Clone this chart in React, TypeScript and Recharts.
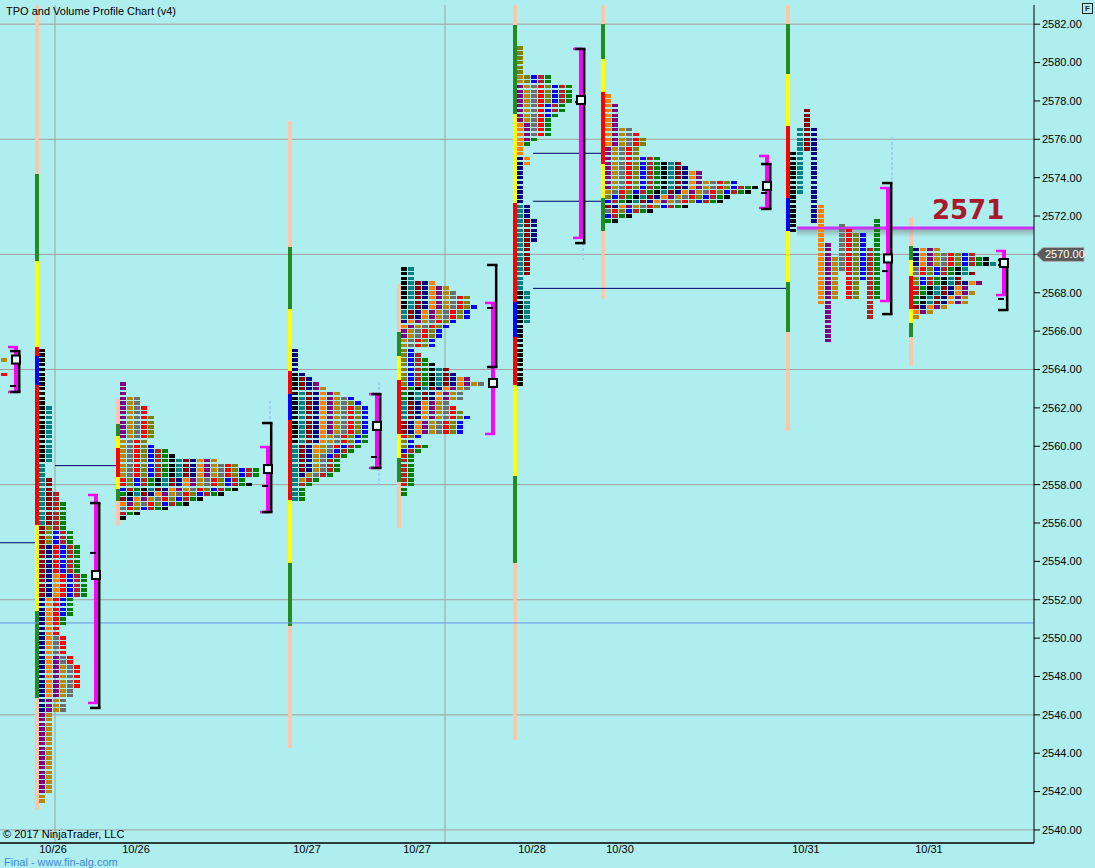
import React from 'react';
import {
  ComposedChart,
  XAxis,
  YAxis,
  Scatter,
  CartesianGrid,
  ReferenceLine,
  ReferenceArea,
  ReferenceDot,
} from 'recharts';

const BG = '#AFEEEE';
const FONT = '"Liberation Sans", Arial, sans-serif';
const TICK = 0.25;
const PX = 1 / 7; // one screen pixel, in TPO-column units
const X_MAX = 1034 / 7;
const Y_MIN = 2539.32;
const Y_MAX = 2583.0;

// letter colours, in period order
const PALETTE = [
  '#000000', '#008080', '#8B0000', '#000080', '#FF8000', '#800080', '#B8860B',
  '#6E6E6E', '#FF0000', '#808000', '#0000FF', '#B22222', '#008000',
];
const BAR_COLORS: Record<string, string> = {
  p: '#FFC6AA', g: '#228B22', y: '#FFFF00', r: '#FF0000', b: '#0000FF',
};

const priceTicks = [
  2540, 2542, 2544, 2546, 2548, 2550, 2552, 2554, 2556, 2558, 2560,
  2562, 2564, 2566, 2568, 2570, 2572, 2574, 2576, 2578, 2580, 2582,
];
const gridLevels = [2540, 2546, 2552, 2558, 2564, 2570, 2576, 2582];
const gridSlots = [7.86, 63.57];
const dateSlots = [7.57, 19.43, 43.86, 59.57, 76.0, 88.57, 115.14, 132.71];
const dateLabels = ['10/26', '10/26', '10/27', '10/27', '10/28', '10/30', '10/31', '10/31'];

// periods as [colour index, high, low]
const prior1025: [number, number, number][] = [
  [6, 2564.5, 2564.5],
  [8, 2563.75, 2563.75],
];
const rth1026: [number, number, number][] = [
  [0, 2565.0, 2559.25], [1, 2562.0, 2556.0], [2, 2558.25, 2552.25],
  [3, 2554.75, 2546.25], [4, 2553.25, 2547.0], [5, 2549.0, 2542.0],
  [6, 2548.5, 2541.5], [7, 2550.0, 2546.25], [8, 2554.75, 2547.5],
  [9, 2555.75, 2555.0], [10, 2555.5, 2551.25], [11, 2557.5, 2552.25],
  [12, 2557.0, 2550.75],
];
const rth1027: [number, number, number][] = [
  [0, 2563.75, 2560.25], [1, 2562.75, 2557.25], [2, 2563.5, 2558.75],
  [3, 2565.0, 2558.5], [4, 2562.75, 2559.75], [5, 2563.25, 2560.75],
  [6, 2563.0, 2558.25], [7, 2562.5, 2558.5], [8, 2562.0, 2560.0],
  [9, 2562.25, 2560.25], [10, 2562.5, 2559.5], [11, 2560.0, 2558.0],
  [12, 2560.5, 2557.25],
];
const rth1028: [number, number, number][] = [
  [0, 2568.0, 2563.25], [1, 2572.5, 2566.5], [2, 2571.75, 2569.0],
  [3, 2575.0, 2570.75], [4, 2576.75, 2574.75], [5, 2578.75, 2576.0],
  [6, 2579.25, 2577.0], [7, 2578.75, 2576.25], [8, 2578.75, 2576.25],
  [9, 2580.75, 2578.0], [10, 2579.25, 2577.25], [11, 2579.25, 2577.5],
  [12, 2579.25, 2575.75],
];
const rth1031: [number, number, number][] = [
  [0, 2575.25, 2571.25], [1, 2576.5, 2573.25], [2, 2577.5, 2575.5],
  [3, 2576.5, 2571.75], [4, 2572.5, 2567.5], [5, 2570.5, 2565.5],
  [6, 2569.75, 2567.75], [7, 2571.5, 2569.25], [8, 2571.25, 2567.75],
  [9, 2571.0, 2567.75], [10, 2571.0, 2568.75], [11, 2570.25, 2566.75],
  [12, 2571.75, 2567.75],
];

// overnight profiles: number of TPOs per row, from the top row down
const eth1026 = [1, 1, 1, 3, 3, 4, 4, 5, 5, 5, 5, 5, 4, 5, 7, 8, 14, 17, 20, 20, 18, 19, 17, 15, 12, 10, 7, 3, 1];
const eth1027 = [2, 2, 2, 5, 7, 8, 10, 10, 11, 10, 10, 8, 7, 6, 6, 5, 5, 2, 3, 4, 5, 7, 8, 10, 12, 10, 9, 9, 7, 8, 9, 10, 9, 9, 9, 3, 2, 4, 3, 2, 2, 2, 2, 2, 2, 2, 1, 1];
const eth1030 = [1, 1, 2, 2, 2, 2, 2, 4, 5, 6, 6, 5, 5, 8, 11, 12, 14, 14, 19, 22, 21, 18, 17, 12, 7, 4, 2];
const eth1031 = [4, 9, 11, 12, 8, 9, 7, 10, 8, 9, 8, 8, 5, 3, 1];

// session range bars: [high, low, colour key]
const bar1026a: [number, number, string][] = [
  [2583.0, 2574.17, 'p'], [2574.17, 2569.64, 'g'], [2569.64, 2565.15, 'y'], [2565.15, 2564.68, 'r'],
  [2564.68, 2563.17, 'b'], [2563.17, 2555.91, 'r'], [2555.91, 2551.43, 'y'], [2551.43, 2546.89, 'g'],
  [2546.89, 2541.04, 'p'],
];
const bar1026b: [number, number, string][] = [
  [2562.44, 2561.18, 'p'], [2561.18, 2560.56, 'g'], [2560.56, 2559.93, 'y'], [2559.93, 2558.42, 'r'],
  [2558.42, 2557.79, 'y'], [2557.79, 2557.17, 'g'], [2557.17, 2555.91, 'p'],
];
const bar1027a: [number, number, string][] = [
  [2576.94, 2570.37, 'p'], [2570.37, 2567.13, 'g'], [2567.13, 2563.9, 'y'], [2563.9, 2562.7, 'r'],
  [2562.7, 2561.39, 'b'], [2561.39, 2557.22, 'r'], [2557.22, 2553.93, 'y'], [2553.93, 2550.64, 'g'],
  [2550.64, 2544.28, 'p'],
];
const bar1027b: [number, number, string][] = [
  [2568.44, 2565.93, 'p'], [2565.93, 2564.68, 'g'], [2564.68, 2563.43, 'y'], [2563.43, 2560.66, 'r'],
  [2560.66, 2559.41, 'y'], [2559.41, 2558.16, 'g'], [2558.16, 2555.76, 'p'],
];
const bar1028: [number, number, string][] = [
  [2583.0, 2581.95, 'p'], [2581.95, 2577.3, 'g'], [2577.3, 2572.66, 'y'], [2572.66, 2567.5, 'r'],
  [2567.5, 2565.67, 'b'], [2565.67, 2563.17, 'r'], [2563.17, 2558.47, 'y'], [2558.47, 2553.93, 'g'],
  [2553.93, 2544.7, 'p'],
];
const bar1030: [number, number, string][] = [
  [2583.0, 2582.0, 'p'], [2582.0, 2580.17, 'g'], [2580.17, 2578.45, 'y'], [2578.45, 2574.7, 'r'],
  [2574.7, 2572.92, 'y'], [2572.92, 2571.2, 'g'], [2571.2, 2567.65, 'p'],
];
const bar1031a: [number, number, string][] = [
  [2583.0, 2582.0, 'p'], [2582.0, 2579.39, 'g'], [2579.39, 2576.68, 'y'], [2576.68, 2572.92, 'r'],
  [2572.92, 2571.2, 'b'], [2571.2, 2568.54, 'y'], [2568.54, 2565.93, 'g'], [2565.93, 2560.77, 'p'],
];
const bar1031b: [number, number, string][] = [
  [2571.93, 2570.42, 'p'], [2570.42, 2569.69, 'g'], [2569.69, 2568.9, 'y'], [2568.9, 2567.18, 'r'],
  [2567.18, 2566.45, 'y'], [2566.45, 2565.67, 'g'], [2565.67, 2564.16, 'p'],
];

// value-area brackets: [magenta high, magenta low, black high, black low, poc, ...extra ticks]
const vaLevels: number[][] = [
  [2565.17, 2562.83, 2564.96, 2562.83, 2564.52, 2563.14],
  [2557.46, 2546.62, 2557.04, 2546.36, 2553.29, 2554.44],
  [2559.96, 2556.57, 2561.21, 2556.57, 2558.81, 2557.93],
  [2562.72, 2558.87, 2562.72, 2558.87, 2561.06, 2559.44],
  [2567.47, 2560.64, 2569.45, 2564.13, 2563.3, 2567.21],
  [2580.71, 2570.86, 2580.71, 2570.59, 2578.05, 2577.94],
  [2575.13, 2572.42, 2574.71, 2572.37, 2573.57, 2573.2],
  [2573.46, 2567.57, 2573.72, 2566.89, 2569.79, 2569.13],
  [2570.18, 2567.88, 2569.71, 2567.1, 2569.55, 2569.45, 2567.68],
];
const vaSlots = [2.0, 13.43, 38.0, 53.57, 70.14, 82.71, 109.29, 126.57, 143.14];

// faint range extensions: [slot, high, low]
const extensions: [number, number, number][] = [
  [38.57, 2562.36, 2561.21],
  [54.14, 2563.35, 2562.72],
  [54.14, 2558.87, 2557.88],
  [83.29, 2570.59, 2569.71],
  [127.43, 2576.12, 2573.77],
];

// session start slots (time position of each profile)
const profileSlots = [-0.43, 5.0, 16.57, 41.14, 56.71, 73.29, 85.86, 112.29, 129.86];

// naked POC lines: [price, from slot, to slot]
const pocLines: [number, number, number][] = [
  [2554.97, 0, 5.0],
  [2558.99, 7.86, 16.57],
  [2575.27, 76.14, 85.86],
  [2572.77, 76.14, 85.86],
  [2568.23, 76.14, 112.29],
];
const levelLine = { price: 2571.37, from: 113.86, label: '2571', labelSlot: 138.3, labelPrice: 2571.83 };
const refLine = 2550.79;
const lastPrice = 2570.0;

function periodsFromWidths(top: number, widths: number[], offset: number) {
  const out: [number, number, number][] = [];
  const open: number[] = [];
  widths.forEach((w, k) => {
    const p = top - k * TICK;
    while (open.length > w) {
      const i = open.shift() as number;
      out[i][2] = p + TICK;
    }
    while (open.length < w) {
      out.push([(offset + out.length) % 13, p, p]);
      open.push(out.length - 1);
    }
  });
  const last = top - (widths.length - 1) * TICK;
  open.forEach((i) => (out[i][2] = last));
  return out;
}

const sessions = [
  { periods: prior1025, bars: [] as [number, number, string][], split: false },
  { periods: rth1026, bars: bar1026a, split: false },
  { periods: periodsFromWidths(2563.25, eth1026, 5), bars: bar1026b, split: false },
  { periods: rth1027, bars: bar1027a, split: false },
  { periods: periodsFromWidths(2569.25, eth1027, 0), bars: bar1027b, split: false },
  { periods: rth1028, bars: bar1028, split: false },
  { periods: periodsFromWidths(2578.25, eth1030, 4), bars: bar1030, split: false },
  { periods: rth1031, bars: bar1031a, split: true },
  { periods: periodsFromWidths(2570.25, eth1031, 3), bars: bar1031b, split: false },
];

type Block = { x: number; y: number; c: string };

function buildBlocks(): Block[] {
  const res: Block[] = [];
  sessions.forEach((s, si) => {
    const start = profileSlots[si] + 4 * PX;
    const hi = Math.max(...s.periods.map((p) => p[1]));
    const lo = Math.min(...s.periods.map((p) => p[2]));
    for (let t = Math.round(hi / TICK); t >= Math.round(lo / TICK); t--) {
      const price = t * TICK;
      let j = 0;
      s.periods.forEach((per, i) => {
        if (price <= per[1] + 1e-6 && price >= per[2] - 1e-6) {
          res.push({ x: start + (s.split ? i : j), y: price, c: PALETTE[per[0]] });
          j++;
        }
      });
    }
  });
  return res;
}

const blocks = buildBlocks();

const renderBlock = (props: any) => {
  const { cx, cy, payload } = props;
  if (cx == null || cy == null) return <g />;
  return <rect x={cx} y={cy - 1.75} width={6} height={3.5} fill={payload.c} shapeRendering="crispEdges" />;
};

const renderPoc = (props: any) => (
  <rect x={props.cx - 4} y={props.cy - 4} width={8} height={8} fill="#E8FFFF" stroke="#000" strokeWidth={2} />
);

const renderLastPrice = (props: any) => {
  const { cx, cy } = props;
  const x0 = cx + 2;
  const pts = `${x0},${cy} ${x0 + 7},${cy - 7} ${x0 + 48},${cy - 7} ${x0 + 48},${cy + 7} ${x0 + 7},${cy + 7}`;
  return (
    <g>
      <polygon points={pts} fill="#5A5A5A" stroke="#B0B0B0" strokeWidth={1} />
      <text x={x0 + 9} y={cy + 4} fontSize={11} fill="#FFFFFF" fontFamily={FONT}>
        {lastPrice.toFixed(2)}
      </text>
    </g>
  );
};

const renderLevelLabel = (props: any) => (
  <text
    x={props.cx}
    y={props.cy}
    textAnchor="middle"
    fontSize={26}
    fontWeight="bold"
    fill="#A8192B"
    fontFamily='"DejaVu Sans", Verdana, sans-serif'
  >
    {levelLine.label}
  </text>
);

const renderLevelLine = (props: any) => {
  const { x1, y1, x2, y2 } = props;
  return (
    <g>
      <rect x={Math.min(x1, x2)} y={y1 + 1} width={Math.abs(x2 - x1)} height={8} fill="url(#lvlShadow)" />
      <line x1={x1} y1={y1} x2={x2} y2={y2} stroke="#CC33FF" strokeWidth={3} />
    </g>
  );
};

function seg(key: string, x1: number, y1: number, x2: number, y2: number, stroke: string, w: number, dash?: string) {
  return (
    <ReferenceLine
      key={key}
      segment={[{ x: x1, y: y1 }, { x: x2, y: y2 }]}
      stroke={stroke}
      strokeWidth={w}
      strokeDasharray={dash}
      ifOverflow="visible"
    />
  );
}

function bracketElements() {
  const els: React.ReactElement[] = [];
  vaLevels.forEach((v, i) => {
    const c = vaSlots[i];
    const [mHi, mLo, bHi, bLo] = v;
    const extra = v.slice(5);
    els.push(seg(`mv${i}`, c + 2 * PX, mHi, c + 2 * PX, mLo, '#FF00FF', 4));
    els.push(seg(`mt${i}`, c - 6 * PX, mHi, c + 4 * PX, mHi, '#FF00FF', 2.5));
    els.push(seg(`mb${i}`, c - 6 * PX, mLo, c + 4 * PX, mLo, '#FF00FF', 2.5));
    els.push(seg(`bv${i}`, c + 5.2 * PX, bHi, c + 5.2 * PX, bLo, '#000000', 2.5));
    els.push(seg(`bt${i}`, c - 4 * PX, bHi, c + 6.5 * PX, bHi, '#000000', 2.5));
    els.push(seg(`bb${i}`, c - 4 * PX, bLo, c + 6.5 * PX, bLo, '#000000', 2.5));
    extra.forEach((t, k) => els.push(seg(`bx${i}-${k}`, c - 4 * PX, t, c + 2 * PX, t, '#000000', 2)));
  });
  return els;
}

function barElements() {
  const els: React.ReactElement[] = [];
  sessions.forEach((s, si) => {
    const c = profileSlots[si];
    s.bars.forEach(([hi, lo, k], bi) => {
      els.push(
        <ReferenceArea
          key={`bar${si}-${bi}`}
          x1={c}
          x2={c + 4 * PX}
          y1={lo}
          y2={hi}
          fill={BAR_COLORS[k]}
          fillOpacity={1}
          stroke="none"
          ifOverflow="visible"
          shapeRendering="crispEdges"
        />
      );
    });
  });
  return els;
}

export default function App() {
  return (
    <div
      style={{
        position: 'fixed',
        left: 0,
        top: 0,
        width: 1095,
        height: 868,
        background: BG,
        fontFamily: FONT,
        overflow: 'hidden',
      }}
    >
      <ComposedChart width={1095} height={868} margin={{ top: 5, right: 0, bottom: 0, left: 0 }}>
        <defs>
          <linearGradient id="lvlShadow" x1="0" y1="0" x2="0" y2="1">
            <stop offset="0%" stopColor="#606060" stopOpacity={0.45} />
            <stop offset="100%" stopColor="#606060" stopOpacity={0} />
          </linearGradient>
        </defs>
        <CartesianGrid
          horizontalValues={gridLevels}
          verticalValues={gridSlots}
          stroke="#A0A0A0"
          strokeDasharray=""
        />
        <XAxis
          type="number"
          dataKey="x"
          domain={[0, X_MAX]}
          ticks={dateSlots}
          interval={0}
          tickFormatter={(v: number, i: number) => dateLabels[i]}
          height={25}
          tickLine={false}
          tickSize={1}
          tickMargin={1}
          axisLine={{ stroke: '#000', strokeWidth: 1.5 }}
          tick={{ fontSize: 11, fill: '#000', fontFamily: FONT }}
        />
        <YAxis
          type="number"
          dataKey="y"
          orientation="right"
          domain={[Y_MIN, Y_MAX]}
          ticks={priceTicks}
          interval={0}
          width={61}
          tickSize={6}
          tickMargin={2}
          tickLine={{ stroke: '#000' }}
          axisLine={{ stroke: '#000' }}
          tick={{ fontSize: 11, fill: '#000', fontFamily: FONT }}
          tickFormatter={(v: number) => (v === lastPrice ? '' : v.toFixed(2))}
        />
        <ReferenceLine y={refLine} stroke="#6495ED" strokeWidth={1} />
        {pocLines.map(([p, a, b], i) => seg(`poc${i}`, a, p, b, p, '#00006A', 1))}
        {extensions.map(([s, hi, lo], i) => seg(`ext${i}`, s, hi, s, lo, '#9CC4F0', 1.5, '3 2'))}
        {barElements()}
        <Scatter data={blocks} shape={renderBlock} isAnimationActive={false} />
        <ReferenceLine
          segment={[{ x: levelLine.from, y: levelLine.price }, { x: X_MAX, y: levelLine.price }]}
          stroke="#CC33FF"
          strokeWidth={3}
          shape={renderLevelLine}
          ifOverflow="visible"
        />
        {bracketElements()}
        {vaLevels.map((v, i) => (
          <ReferenceDot
            key={`poc-sq${i}`}
            x={vaSlots[i] + 2 * PX}
            y={v[4]}
            r={4}
            shape={renderPoc}
            ifOverflow="visible"
          />
        ))}
        <ReferenceDot x={levelLine.labelSlot} y={levelLine.labelPrice} r={1} shape={renderLevelLabel} ifOverflow="visible" />
        <ReferenceDot x={X_MAX} y={lastPrice} r={1} shape={renderLastPrice} ifOverflow="visible" />
      </ComposedChart>
      <div style={{ position: 'absolute', left: 6, top: 5, fontSize: 11, lineHeight: '13px', color: '#000' }}>
        TPO and Volume Profile Chart (v4)
      </div>
      <div
        style={{
          position: 'absolute',
          left: 1082,
          top: 3,
          width: 9,
          height: 9,
          border: '1px solid #222',
          fontSize: 8,
          lineHeight: '9px',
          textAlign: 'center',
          fontWeight: 'bold',
          color: '#222',
        }}
      >
        F
      </div>
      <div style={{ position: 'absolute', left: 3, top: 828, fontSize: 11, lineHeight: '12px', color: '#000' }}>
        © 2017 NinjaTrader, LLC
      </div>
      <div style={{ position: 'absolute', left: 4, top: 857, fontSize: 11, lineHeight: '11px', color: '#3C8AD8' }}>
        Final - www.fin-alg.com
      </div>
    </div>
  );
}
